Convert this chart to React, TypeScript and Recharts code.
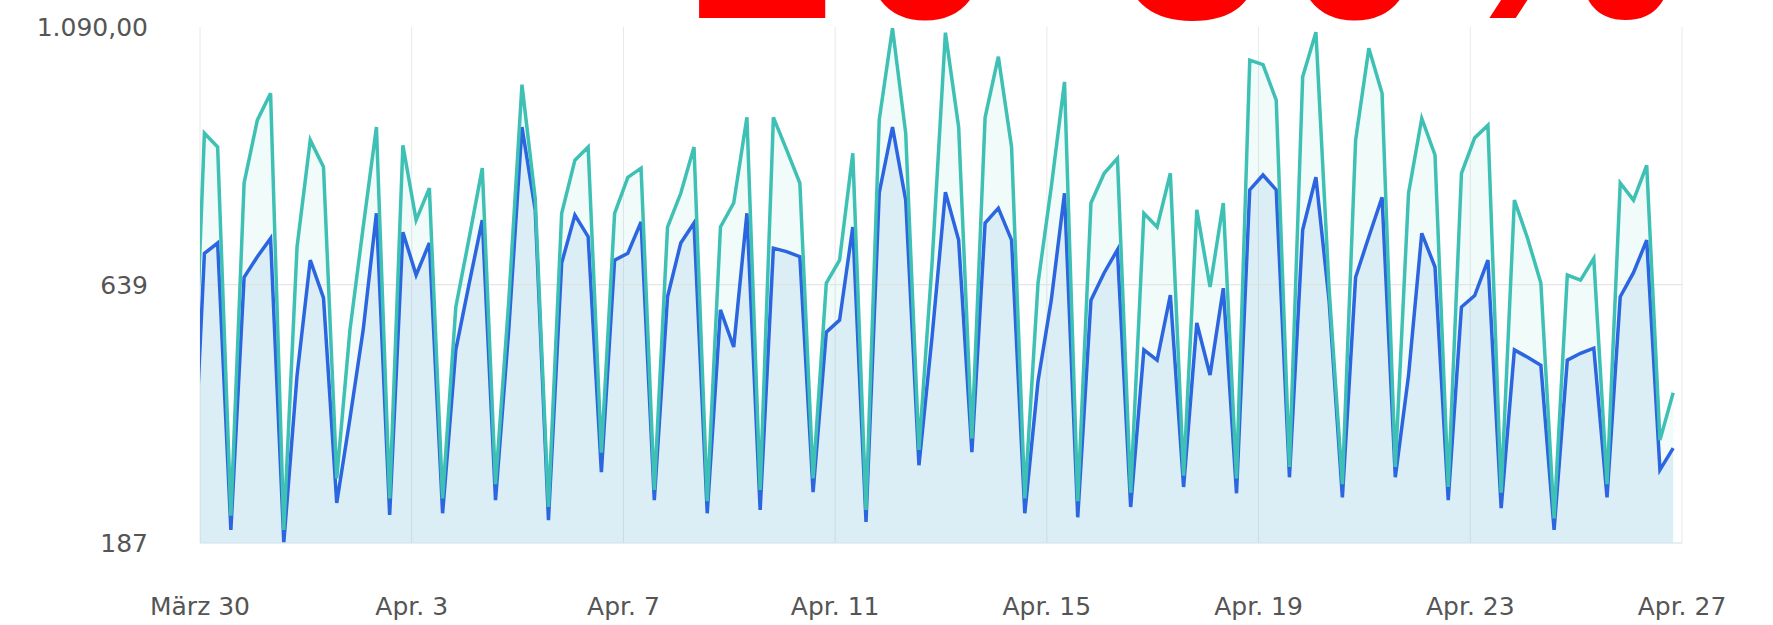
import React from 'react';
import { ComposedChart, Area, Line, XAxis, YAxis, CartesianGrid, ReferenceLine } from 'recharts';

// x axis: hours since März 30, 00:00
const tickHours = [0, 96, 192, 288, 384, 480, 576, 672];
const tickLabels = ['März 30', 'Apr. 3', 'Apr. 7', 'Apr. 11', 'Apr. 15', 'Apr. 19', 'Apr. 23', 'Apr. 27'];
const yTicks = [187, 639, 1090];

// samples every 6 hours, the first one falls just before the visible range
const firstHour = -4;
const stepHours = 6;

const tealValues = [
  300,
  904, 880, 235, 817, 927, 974, 210, 705, 892, 845, 300, 560,
  740, 915, 265, 883, 752, 808, 265, 600, 720, 843, 290, 610,
  989, 790, 250, 764, 857, 880, 345, 764, 827, 843, 280, 740,
  799, 880, 260, 740, 782, 932, 280, 932, 875, 817, 300, 642,
  682, 869, 245, 928, 1088, 904, 350, 680, 1080, 915, 370, 932,
  1038, 880, 265, 642, 810, 994, 260, 782, 834, 860, 275, 764,
  740, 834, 305, 770, 635, 782, 300, 1032, 1024, 962, 320, 1003,
  1081, 630, 290, 892, 1053, 974, 320, 799, 930, 866, 285, 834,
  896, 918, 275, 787, 720, 642, 230, 656, 647, 685, 290, 817,
  787, 848, 367, 450,
];

const blueValues = [
  200,
  694, 712, 210, 652, 688, 720, 188, 480, 682, 616, 257, 405,
  560, 764, 236, 731, 656, 712, 239, 525, 640, 752, 262, 560,
  915, 770, 227, 677, 761, 723, 311, 682, 694, 749, 262, 618,
  712, 747, 239, 595, 530, 764, 245, 703, 697, 688, 276, 556,
  577, 740, 224, 800, 915, 787, 323, 550, 801, 717, 346, 747,
  773, 717, 239, 470, 612, 799, 232, 612, 660, 700, 250, 525,
  507, 621, 285, 572, 481, 633, 274, 805, 831, 805, 302, 735,
  827, 610, 267, 652, 723, 792, 302, 480, 729, 670, 262, 600,
  620, 682, 248, 525, 512, 498, 210, 507, 519, 528, 267, 618,
  660, 717, 315, 353,
];

const chartData = tealValues.map((v, i) => ({
  hour: firstHour + i * stepHours,
  teal: v,
  blue: blueValues[i],
}));

const fmtX = (h: number) => tickLabels[tickHours.indexOf(h)] ?? '';
const fmtY = (v: number) => (v >= 1000 ? '1.090,00' : String(v));

const tickStyle = { fontSize: 25, fill: '#555', fontFamily: '"DejaVu Sans", sans-serif' };

export default function App() {
  return (
    <div style={{ position: 'absolute', left: 0, top: 0, width: 1773, height: 625, background: '#fff' }}>
      <ComposedChart
        width={1773}
        height={625}
        data={chartData}
        margin={{ top: 27, right: 91, bottom: 0, left: 0 }}
      >
        <CartesianGrid vertical horizontal={false} stroke="#e8e8e8" />
        <ReferenceLine y={639} stroke="#e0e0e0" />
        <XAxis
          type="number"
          dataKey="hour"
          domain={[0, 672]}
          ticks={tickHours}
          allowDataOverflow
          interval={0}
          tickFormatter={fmtX}
          height={82}
          tickLine={false}
          axisLine={{ stroke: '#cfe0ea' }}
          tickMargin={48}
          tick={tickStyle}
        />
        <YAxis
          domain={[187, 1090]}
          ticks={yTicks}
          allowDataOverflow
          tickFormatter={fmtY}
          width={200}
          axisLine={false}
          tickLine={false}
          tickMargin={46}
          tick={tickStyle}
        />
        <Area type="linear" dataKey="teal" stroke="none" fill="#3cc0b4" fillOpacity={0.07} isAnimationActive={false} />
        <Area type="linear" dataKey="blue" stroke="none" fill="#6fb1e0" fillOpacity={0.16} isAnimationActive={false} />
        <Line type="linear" dataKey="blue" stroke="#2b66e0" strokeWidth={3.5} dot={false} isAnimationActive={false} />
        <Line type="linear" dataKey="teal" stroke="#3fc0b4" strokeWidth={3.5} dot={false} isAnimationActive={false} />
      </ComposedChart>
      <svg width={1773} height={625} style={{ position: 'absolute', left: 0, top: 0, pointerEvents: 'none' }}>
        <text
          x={690}
          y={18}
          fontSize={262}
          fontWeight="bold"
          letterSpacing={17}
          fontFamily='"Liberation Sans", Arial, sans-serif'
          fill="#ff0000"
        >
          20-30%
        </text>
      </svg>
    </div>
  );
}
